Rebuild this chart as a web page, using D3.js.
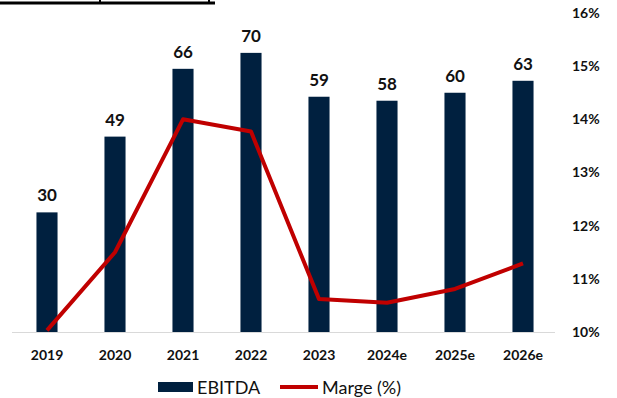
<!DOCTYPE html>
<html>
<head>
<meta charset="utf-8">
<script src="https://cdn.jsdelivr.net/npm/d3@7"></script>
<style>
  html, body { margin: 0; padding: 0; background: #fff; }
  svg { display: block; font-family: Lato, "Liberation Sans", sans-serif; }
</style>
</head>
<body>
<svg id="chart" width="617" height="398"></svg>
<script>
// EBITDA (bars, left scale) and margin in % (line, right scale)
const years = ["2019", "2020", "2021", "2022", "2023", "2024e", "2025e", "2026e"];
const ebitda = [30, 49, 66, 70, 59, 58, 60, 63];
const marge = [10.03, 11.5, 14.0, 13.77, 10.62, 10.55, 10.81, 11.29];
const margeTicks = [10, 11, 12, 13, 14, 15, 16];
const legendLabels = ["EBITDA", "Marge (%)"];

const svg = d3.select("#chart");
const navy = "#00203f";
const red = "#c00000";

const plot = { left: 13, right: 557, top: 13, bottom: 332 };

const x = d3.scaleBand()
  .domain(years)
  .range([plot.left, plot.right])
  .paddingInner(0.69)
  .paddingOuter(0.345);

const yBar = d3.scaleLinear().domain([0, 80]).range([plot.bottom, plot.top]);
const yPct = d3.scaleLinear().domain([10, 16]).range([plot.bottom, plot.top]);

// title box edge along the top
svg.append("rect").attr("x", 0).attr("y", 1.5).attr("width", 215).attr("height", 3).attr("fill", "#000");
svg.append("rect").attr("x", 99).attr("y", 0).attr("width", 2).attr("height", 3).attr("fill", "#000");
svg.append("rect").attr("x", 208).attr("y", 0).attr("width", 2).attr("height", 3).attr("fill", "#000");

// baseline
svg.append("line")
  .attr("x1", 12).attr("x2", 555)
  .attr("y1", plot.bottom + 0.5).attr("y2", plot.bottom + 0.5)
  .attr("stroke", "#d9d9d9").attr("stroke-width", 1);

// bars
svg.append("g").selectAll("rect")
  .data(years)
  .join("rect")
  .attr("x", d => x(d))
  .attr("y", (d, i) => yBar(ebitda[i]))
  .attr("width", x.bandwidth())
  .attr("height", (d, i) => plot.bottom - yBar(ebitda[i]))
  .attr("fill", navy);

// bar value labels
svg.append("g").selectAll("text")
  .data(years)
  .join("text")
  .attr("x", d => x(d) + x.bandwidth() / 2)
  .attr("y", (d, i) => yBar(ebitda[i]) - 11)
  .attr("text-anchor", "middle")
  .attr("font-size", 17)
  .attr("font-weight", "bold")
  .attr("fill", "#111")
  .text((d, i) => ebitda[i]);

// margin line
const line = d3.line()
  .x((d, i) => x(years[i]) + x.bandwidth() / 2)
  .y(d => yPct(d));

svg.append("path")
  .datum(marge)
  .attr("d", line)
  .attr("fill", "none")
  .attr("stroke", red)
  .attr("stroke-width", 4)
  .attr("stroke-linejoin", "round");

// category axis
const xAxis = svg.append("g")
  .attr("transform", `translate(0,${plot.bottom})`)
  .call(d3.axisBottom(x).tickSize(0).tickPadding(18));
xAxis.select(".domain").remove();
xAxis.selectAll("text")
  .attr("font-size", 14)
  .attr("font-weight", "bold")
  .attr("font-family", "Lato, 'Liberation Sans', sans-serif")
  .attr("fill", "#111");

// right percentage axis
const yAxis = svg.append("g")
  .attr("transform", "translate(566,0)")
  .call(d3.axisRight(yPct).tickValues(margeTicks).tickSize(0).tickPadding(6).tickFormat(d => d + "%"));
yAxis.select(".domain").remove();
yAxis.selectAll("text")
  .attr("font-size", 14)
  .attr("font-weight", "bold")
  .attr("font-family", "Lato, 'Liberation Sans', sans-serif")
  .attr("fill", "#111");

// legend
const legend = svg.append("g");
legend.append("rect")
  .attr("x", 158).attr("y", 382).attr("width", 35).attr("height", 10)
  .attr("fill", navy);
legend.append("text")
  .attr("x", 197).attr("y", 393.5)
  .attr("font-size", 18).attr("fill", "#111")
  .text(legendLabels[0]);
legend.append("line")
  .attr("x1", 280).attr("x2", 318).attr("y1", 387).attr("y2", 387)
  .attr("stroke", red).attr("stroke-width", 4);
legend.append("text")
  .attr("x", 322).attr("y", 393.5)
  .attr("font-size", 18).attr("fill", "#111")
  .text(legendLabels[1]);
</script>
</body>
</html>
